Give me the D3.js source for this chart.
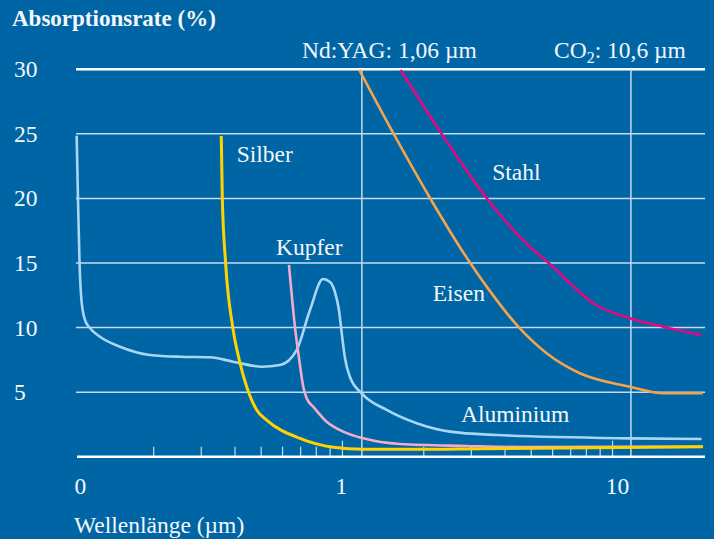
<!DOCTYPE html>
<html><head><meta charset="utf-8">
<script src="https://cdn.jsdelivr.net/npm/d3@7"></script>
<style>html,body{margin:0;padding:0;background:#0065a4;}svg{display:block;}</style>
</head><body>
<svg id="chart" width="714" height="539"></svg>
<script>
// ---- data ----
const yTicks = [5, 10, 15, 20, 25, 30];
const minorTicks = [0.2,0.3,0.4,0.5,0.6,0.7,0.8,0.9,2,3,4,5,6,7,8,9];
const majorTicks = [1, 10];
const xTickValues = [0.1, 1, 10];
const xTickLabels = ["0", "1", "10"];
const laserLines = [1.18, 11.7];
const laserLabels = ["Nd:YAG: 1,06 µm", "CO₂: 10,6 µm"];

const aluminiumX = [0.1037,0.1049,0.1062,0.1080,0.1113,0.1155,0.1265,0.1500,0.1938,0.2502,0.3232,0.3932,0.5023,0.5869,0.6766,0.7581,0.8469,0.8990,0.9380,0.9705,0.9957,1.0216,1.066,1.178,1.458,1.883,2.500,3.724,11.60,21.37];
const aluminiumY = [24.86,19.88,15.23,12.14,10.59,10.02,9.29,8.52,7.88,7.74,7.70,7.36,6.97,7.10,8.26,11.36,13.76,13.53,12.75,11.36,9.42,7.64,6.17,4.91,3.62,2.59,1.94,1.68,1.42,1.37];
const silberX = [0.3558,0.3589,0.3694,0.3923,0.4148,0.4419,0.4813,0.5240,0.6963,0.9245,1.194,1.883,3.229,21.6];
const silberY = [24.84,20.11,14.95,10.04,7.49,5.42,3.62,2.84,1.42,0.73,0.57,0.57,0.62,0.77];
const kupferX = [0.6338,0.6670,0.6919,0.7158,0.7369,0.7797,0.8740,1.007,1.194,1.633,2.883,4.541,21.6];
const kupferY = [14.85,10.04,7.49,5.42,4.52,3.87,2.71,1.94,1.42,0.98,0.83,0.75,0.77];
const eisenX = [1.154,1.564,2.096,2.763,3.420,4.476,5.702,7.573,11.60,15.40,21.6];
const eisenY = [29.95,24.82,20.13,16.01,13.17,10.07,8.01,6.46,5.42,4.91,4.91];
const stahlX = [1.642,2.362,3.390,4.290,4.945,5.539,6.388,6.956,8.483,11.60,15.40,21.37];
const stahlY = [29.95,24.82,20.13,17.56,16.26,15.36,14.20,13.43,11.88,10.72,10.07,9.42];

const seriesNames = ["Aluminium", "Kupfer", "Silber", "Eisen", "Stahl"];
const labelX = [2.746, 0.5673, 0.4058, 2.158, 3.586];
const labelY = [3.31, 16.26, 23.44, 12.70, 22.07];

// ---- styles ----
const colors = {Aluminium:"#a9d6f4", Kupfer:"#f5aacb", Silber:"#ffd200", Eisen:"#f5a34b", Stahl:"#e4087e"};
const seriesData = {
  Aluminium: aluminiumX.map((x,i)=>[x, aluminiumY[i]]),
  Kupfer: kupferX.map((x,i)=>[x, kupferY[i]]),
  Silber: silberX.map((x,i)=>[x, silberY[i]]),
  Eisen: eisenX.map((x,i)=>[x, eisenY[i]]),
  Stahl: stahlX.map((x,i)=>[x, stahlY[i]])
};
const textColor = "#f4f7fa";
const gridColor = "#c6dbed";
const font = "'Liberation Serif', serif";
const fs = 23.5;

const svg = d3.select("#chart");
svg.append("rect").attr("width",714).attr("height",539).attr("fill","#0065a4");

const x = d3.scaleLog().domain([0.104, 22]).range([77, 705]);
const y = d3.scaleLinear().domain([0, 30]).range([456.7, 69.3]);

// horizontal grid
svg.append("g").selectAll("line").data(yTicks).join("line")
  .attr("x1", 76).attr("x2", 705)
  .attr("y1", d=>y(d)).attr("y2", d=>y(d))
  .attr("stroke", d=> d===30 ? "#ffffff" : gridColor)
  .attr("stroke-width", d=> d===30 ? 2.5 : 1.5);

// laser vertical lines
svg.append("g").selectAll("line").data(laserLines).join("line")
  .attr("x1", d=>x(d)).attr("x2", d=>x(d))
  .attr("y1", y(30)).attr("y2", y(0))
  .attr("stroke", gridColor).attr("stroke-width", 1.5);

// ticks
svg.append("g").selectAll("line").data(minorTicks).join("line")
  .attr("x1", d=>x(d)).attr("x2", d=>x(d))
  .attr("y1", y(0)-10).attr("y2", y(0))
  .attr("stroke", gridColor).attr("stroke-width", 1.2);
svg.append("g").selectAll("line").data(majorTicks).join("line")
  .attr("x1", d=>x(d)).attr("x2", d=>x(d))
  .attr("y1", y(0)-16).attr("y2", y(0))
  .attr("stroke", gridColor).attr("stroke-width", 1.2);

// curves
const line = d3.line().x(d=>x(d[0])).y(d=>y(d[1])).curve(d3.curveMonotoneX);
["Aluminium","Kupfer","Silber","Eisen","Stahl"].forEach(name=>{
  svg.append("path").datum(seriesData[name])
    .attr("d", line).attr("fill","none")
    .attr("stroke", colors[name]).attr("stroke-width", name==="Silber"?3:2.6)
    .attr("stroke-linejoin","round").attr("stroke-linecap","butt");
});

// x axis line
svg.append("line").attr("x1", 77).attr("x2", 705).attr("y1", y(0)).attr("y2", y(0))
  .attr("stroke", "#ffffff").attr("stroke-width", 2.5);

// y tick labels
svg.append("g").selectAll("text").data(yTicks).join("text")
  .attr("x", 14).attr("y", d=>y(d)+8)
  .attr("fill", textColor).attr("font-family", font).attr("font-size", fs)
  .text(d=>d);

// x tick labels
const xLabelDx = [8, -1, 5];
svg.append("g").selectAll("text").data(xTickValues).join("text")
  .attr("x", (d,i)=>x(d)+xLabelDx[i]).attr("y", 494)
  .attr("text-anchor","middle")
  .attr("fill", textColor).attr("font-family", font).attr("font-size", fs)
  .text((d,i)=>xTickLabels[i]);

// axis titles
svg.append("text").attr("x", 12).attr("y", 26)
  .attr("fill", textColor).attr("font-family", font).attr("font-size", 23).attr("font-weight","bold")
  .text("Absorptionsrate (%)");
svg.append("text").attr("x", 74).attr("y", 533)
  .attr("fill", textColor).attr("font-family", font).attr("font-size", fs)
  .text("Wellenlänge (µm)");

// laser labels
svg.append("text").attr("x", 302).attr("y", 57.5)
  .attr("fill", textColor).attr("font-family", font).attr("font-size", fs)
  .text(laserLabels[0]);
const co2 = svg.append("text").attr("x", 554).attr("y", 57.5)
  .attr("fill", textColor).attr("font-family", font).attr("font-size", fs);
co2.append("tspan").text("CO");
co2.append("tspan").attr("font-size", 16).attr("dy", 5).text("2");
co2.append("tspan").attr("dy", -5).text(": 10,6 µm");

// series labels
svg.append("g").selectAll("text").data(seriesNames).join("text")
  .attr("x", (d,i)=>x(labelX[i])).attr("y", (d,i)=>y(labelY[i]))
  .attr("dy", "0.35em")
  .attr("fill", textColor).attr("font-family", font).attr("font-size", fs)
  .text(d=>d);
</script>
</body></html>
